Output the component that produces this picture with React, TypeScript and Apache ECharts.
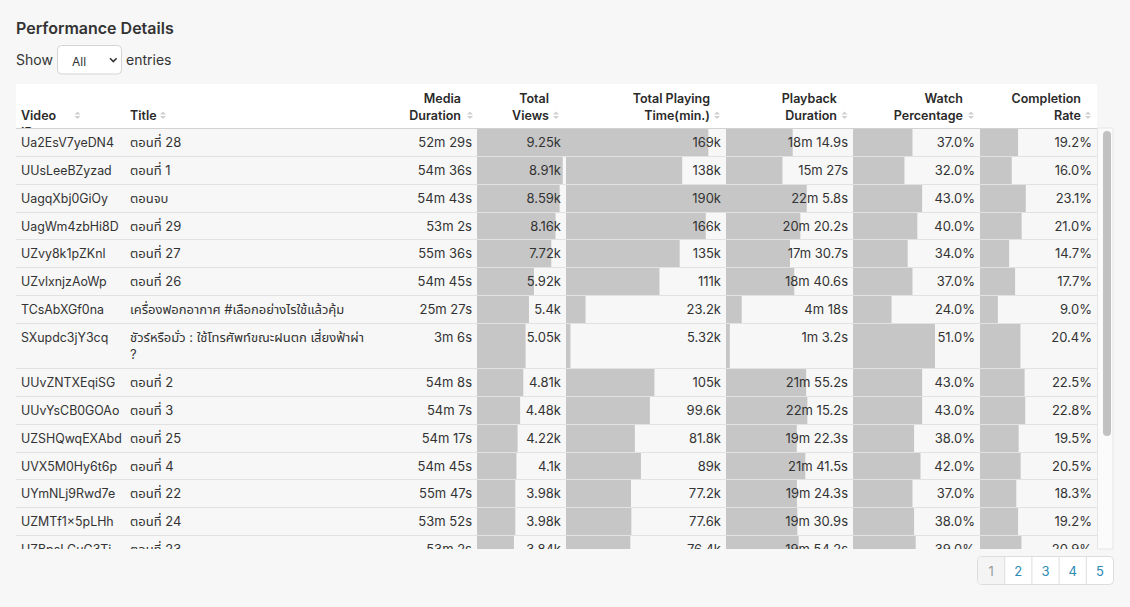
import React, { useEffect, useRef } from "react";
import * as echarts from "echarts";

// ---------- data ----------
const videoIds = [
  "Ua2EsV7yeDN4", "UUsLeeBZyzad", "UagqXbj0GiOy", "UagWm4zbHi8D", "UZvy8k1pZKnl",
  "UZvlxnjzAoWp", "TCsAbXGf0na", "SXupdc3jY3cq", "UUvZNTXEqiSG", "UUvYsCB0GOAo",
  "UZSHQwqEXAbd", "UVX5M0Hy6t6p", "UYmNLj9Rwd7e", "UZMTf1x5pLHh", "UZBpsLGuG3Ti",
];
const titles = [
  "ตอนที่ 28", "ตอนที่ 1", "ตอนจบ", "ตอนที่ 29", "ตอนที่ 27",
  "ตอนที่ 26", "เครื่องฟอกอากาศ #เลือกอย่างไรใช้แล้วคุ้ม", "ชัวร์หรือมั่ว : ใช้โทรศัพท์ขณะฝนตก เสี่ยงฟ้าผ่า\n?", "ตอนที่ 2", "ตอนที่ 3",
  "ตอนที่ 25", "ตอนที่ 4", "ตอนที่ 22", "ตอนที่ 24", "ตอนที่ 23",
];
const mediaDurationSec = [3149, 3276, 3283, 3182, 3336, 3285, 1527, 186, 3248, 3247, 3257, 3285, 3347, 3232, 3182];
const totalViews = [9250, 8910, 8590, 8160, 7720, 5920, 5400, 5050, 4810, 4480, 4220, 4100, 3980, 3980, 3840];
const totalPlayingTime = [169000, 138000, 190000, 166000, 135000, 111000, 23200, 5320, 105000, 99600, 81800, 89000, 77200, 77600, 76400];
const playbackDurationSec = [1094.9, 927, 1325.8, 1220.2, 1050.7, 1120.6, 258, 63.2, 1315.2, 1335.2, 1162.3, 1301.5, 1164.3, 1170.9, 1194.2];
const watchPercentage = [37, 32, 43, 40, 34, 37, 24, 51, 43, 43, 38, 42, 37, 38, 39];
const completionRate = [19.2, 16.0, 23.1, 21.0, 14.7, 17.7, 9.0, 20.4, 22.5, 22.8, 19.5, 20.5, 18.3, 19.2, 20.9];
const pageLabels = ["1", "2", "3", "4", "5"];

// ---------- styles / layout ----------
const FONT = "Inter, 'Noto Sans', 'Noto Sans Thai', sans-serif";
const TEXT = "#333333";
const HEAD_TEXT = "#2a2a2a";
const BAR = "#c6c6c6";
const LINE = "#e2e2e2";
const BG = "#f7f7f7";

const TABLE_L = 16;
const TABLE_R = 1097;
const HEAD_T = 84;
const BODY_T = 128;
const BODY_B = 549;
const BODY_H = BODY_B - BODY_T;
const ROW_H = 27.85;
const EXTRA_LINE = 17.15;

const rowLines = titles.map((t) => t.split("\n").length);
const rowTops: number[] = [];
const rowBottoms: number[] = [];
{
  let acc = 0;
  rowLines.forEach((n) => {
    rowTops.push(acc);
    acc += ROW_H + (n - 1) * EXTRA_LINE;
    rowBottoms.push(acc);
  });
}

const fmtSI = (v: number) => {
  if (v >= 1000) return parseFloat((v / 1000).toPrecision(3)).toString() + "k";
  return parseFloat(v.toPrecision(3)).toString();
};
const fmtDurInt = (s: number) => `${Math.floor(s / 60)}m ${Math.round(s - Math.floor(s / 60) * 60)}s`;
const fmtDur1 = (s: number) => {
  const m = Math.floor(s / 60);
  const r = Math.round((s - m * 60) * 10) / 10;
  return `${m}m ${r}s`;
};
const fmtPct = (v: number) => v.toFixed(1) + "%";

const barColumns = [
  { values: totalViews, max: 9250, left: 477, right: 566, fmt: fmtSI },
  { values: totalPlayingTime, max: 190000, left: 566, right: 726, fmt: fmtSI },
  { values: playbackDurationSec, max: 2085, left: 726, right: 853, fmt: fmtDur1 },
  { values: watchPercentage, max: 79, left: 853, right: 980, fmt: fmtPct },
  { values: completionRate, max: 59, left: 980, right: 1097, fmt: fmtPct },
];

const headers = [
  { text: "Video\nID", x: 21, align: "left", top: 106.5, icon: 77.5 },
  { text: "Title", x: 130, align: "left", top: 106.5, icon: 163 },
  { text: "Media\nDuration", x: 461, align: "right", top: 89.5, icon: 470 },
  { text: "Total\nViews", x: 549, align: "right", top: 89.5, icon: 556 },
  { text: "Total Playing\nTime(min.)", x: 710, align: "right", top: 89.5, icon: 717 },
  { text: "Playback\nDuration", x: 837, align: "right", top: 89.5, icon: 844.5 },
  { text: "Watch\nPercentage", x: 963, align: "right", top: 89.5, icon: 971 },
  { text: "Completion\nRate", x: 1081, align: "right", top: 89.5, icon: 1088 },
];

function cellText(text: string, x: number, y: number, align: string, size = 13) {
  return {
    type: "text",
    x,
    y,
    style: {
      text,
      fill: TEXT,
      fontSize: size,
      fontFamily: FONT,
      align,
      verticalAlign: "top",
      lineHeight: 17,
    },
  };
}

function buildOption() {
  const grids: any[] = [{ left: TABLE_L, top: BODY_T, width: TABLE_R - TABLE_L, height: BODY_H }];
  const xAxes: any[] = [{ type: "value", gridIndex: 0, min: 0, max: TABLE_R - TABLE_L, show: false }];
  const yAxes: any[] = [{ type: "value", gridIndex: 0, min: 0, max: BODY_H, inverse: true, show: false }];

  barColumns.forEach((c, k) => {
    grids.push({ left: c.left, top: BODY_T, width: c.right - c.left, height: BODY_H });
    xAxes.push({ type: "value", gridIndex: k + 1, min: 0, max: c.max, show: false });
    yAxes.push({ type: "value", gridIndex: k + 1, min: 0, max: BODY_H, inverse: true, show: false });
  });

  const series: any[] = [];
  series.push({
    type: "custom",
    name: "rows",
    xAxisIndex: 0,
    yAxisIndex: 0,
    clip: true,
    z: 3,
    silent: true,
    encode: { x: 0, y: [1, 2] },
    data: videoIds.map((_, i) => [0, rowTops[i], rowBottoms[i], i]),
    renderItem: (params: any, api: any) => {
      const i = api.value(3);
      const cs = params.coordSys;
      const y0 = Math.round(api.coord([0, api.value(1)])[1]);
      const y1 = Math.round(api.coord([0, api.value(2)])[1]);
      return {
        type: "group",
        children: [
          { type: "rect", shape: { x: cs.x, y: y0, width: cs.width, height: y1 - y0 }, style: { fill: BG } },
          {
            type: "line",
            shape: { x1: cs.x, y1: y0 + 0.5, x2: cs.x + cs.width, y2: y0 + 0.5 },
            style: { stroke: i === 0 ? "#d2d2d2" : LINE, lineWidth: 1 },
          },
          cellText(videoIds[i], cs.x + 5, y0 + 5.8, "left", 12.4),
          cellText(titles[i], cs.x + 114, y0 + 5.5, "left"),
          cellText(fmtDurInt(mediaDurationSec[i]), cs.x + 456, y0 + 5.5, "right"),
        ],
      };
    },
  });

  barColumns.forEach((c, k) => {
    series.push({
      type: "custom",
      xAxisIndex: k + 1,
      yAxisIndex: k + 1,
      clip: true,
      z: 4,
      silent: true,
      encode: { x: 0, y: [1, 2] },
      data: c.values.map((v, i) => [v, rowTops[i], rowBottoms[i], i]),
      renderItem: (params: any, api: any) => {
        const cs = params.coordSys;
        const v = api.value(0);
        const p0 = api.coord([0, api.value(1)]);
        const p1 = api.coord([v, api.value(2)]);
        const y0 = Math.round(p0[1]);
        const y1 = Math.round(p1[1]);
        return {
          type: "group",
          children: [
            {
              type: "rect",
              shape: { x: p0[0], y: y0 + 1, width: p1[0] - p0[0], height: y1 - y0 - 1 },
              style: { fill: BAR },
            },
            cellText(c.fmt(v), cs.x + cs.width - 5, y0 + 5.5, "right"),
          ],
        };
      },
    });
  });

  const graphics: any[] = [];
  // Title
  graphics.push({
    type: "text",
    x: 16,
    y: 28,
    z: 1,
    style: { text: "Performance Details", fill: "#333", fontSize: 16, fontWeight: 600, fontFamily: FONT, verticalAlign: "middle" },
  });
  // Show [All] entries
  graphics.push({
    type: "text",
    x: 16,
    y: 59.5,
    z: 1,
    style: { text: "Show", fill: "#333", fontSize: 14, fontFamily: FONT, verticalAlign: "middle" },
  });
  graphics.push({
    type: "rect",
    z: 1,
    shape: { x: 57.5, y: 45.5, width: 64, height: 28.5, r: 4 },
    style: { fill: "#ffffff", stroke: "#d4d4d4", lineWidth: 1 },
  });
  graphics.push({
    type: "text",
    x: 72,
    y: 61,
    z: 2,
    style: { text: "All", fill: "#333", fontSize: 12, fontFamily: FONT, verticalAlign: "middle" },
  });
  graphics.push({
    type: "polyline",
    z: 2,
    shape: { points: [[110, 58.3], [113.3, 61.6], [116.6, 58.3]] },
    style: { stroke: "#333", lineWidth: 1.6, fill: null },
  });
  graphics.push({
    type: "text",
    x: 126,
    y: 59.5,
    z: 1,
    style: { text: "entries", fill: "#333", fontSize: 14, fontFamily: FONT, verticalAlign: "middle" },
  });
  // Header
  graphics.push({
    type: "rect",
    z: 0,
    shape: { x: TABLE_L, y: HEAD_T, width: TABLE_R - TABLE_L, height: BODY_T - HEAD_T },
    style: { fill: "#ffffff" },
  });
  headers.forEach((h) => {
    graphics.push({
      type: "text",
      x: h.x,
      y: h.top,
      z: 1,
      style: {
        text: h.text,
        fill: HEAD_TEXT,
        fontSize: 12.5,
        fontWeight: 600,
        fontFamily: FONT,
        align: h.align,
        verticalAlign: "top",
        lineHeight: 17,
      },
    });
    graphics.push({
      type: "polygon",
      z: 1,
      shape: { points: [[h.icon - 3, 114.5], [h.icon + 3, 114.5], [h.icon, 111.5]] },
      style: { fill: "#d0d0d0" },
    });
    graphics.push({
      type: "polygon",
      z: 1,
      shape: { points: [[h.icon - 3, 116], [h.icon + 3, 116], [h.icon, 119]] },
      style: { fill: "#d0d0d0" },
    });
  });
  // Scrollbar
  graphics.push({
    type: "rect",
    z: 1,
    shape: { x: 1097.5, y: BODY_T, width: 15.5, height: BODY_H },
    style: { fill: "#fbfbfb", stroke: "#e6e6e6", lineWidth: 1 },
  });
  graphics.push({
    type: "rect",
    z: 2,
    shape: { x: 1103, y: 131, width: 8, height: 305, r: 4 },
    style: { fill: "#c1c1c1" },
  });
  // Pagination
  const pgL = 977.5;
  const pgW = 136;
  const cellW = pgW / pageLabels.length;
  graphics.push({
    type: "rect",
    z: 1,
    shape: { x: pgL, y: 556.5, width: pgW, height: 28, r: 4 },
    style: { fill: "#ffffff", stroke: "#dddddd", lineWidth: 1 },
  });
  graphics.push({
    type: "rect",
    z: 2,
    shape: { x: pgL + 0.5, y: 557, width: cellW - 0.5, height: 27, r: [3.5, 0, 0, 3.5] },
    style: { fill: "#f4f4f4" },
  });
  pageLabels.forEach((p, i) => {
    if (i > 0) {
      graphics.push({
        type: "line",
        z: 3,
        shape: { x1: pgL + cellW * i, y1: 557, x2: pgL + cellW * i, y2: 584 },
        style: { stroke: "#dddddd", lineWidth: 1 },
      });
    }
    graphics.push({
      type: "text",
      x: pgL + cellW * (i + 0.5),
      y: 570.5,
      z: 3,
      style: {
        text: p,
        fill: i === 0 ? "#9a9a9a" : "#2b8ab3",
        fontSize: 13,
        fontFamily: FONT,
        align: "center",
        verticalAlign: "middle",
      },
    });
  });

  return {
    animation: false,
    backgroundColor: BG,
    grid: grids,
    xAxis: xAxes,
    yAxis: yAxes,
    series,
    graphic: { elements: graphics },
  };
}

export default function App() {
  const ref = useRef<HTMLDivElement>(null);
  useEffect(() => {
    if (!ref.current) return;
    const chart = echarts.init(ref.current, undefined, { renderer: "svg" });
    chart.setOption(buildOption() as any);
    return () => chart.dispose();
  }, []);
  return (
    <div
      ref={ref}
      style={{ position: "absolute", left: 0, top: 0, width: 1130, height: 607 }}
    />
  );
}
